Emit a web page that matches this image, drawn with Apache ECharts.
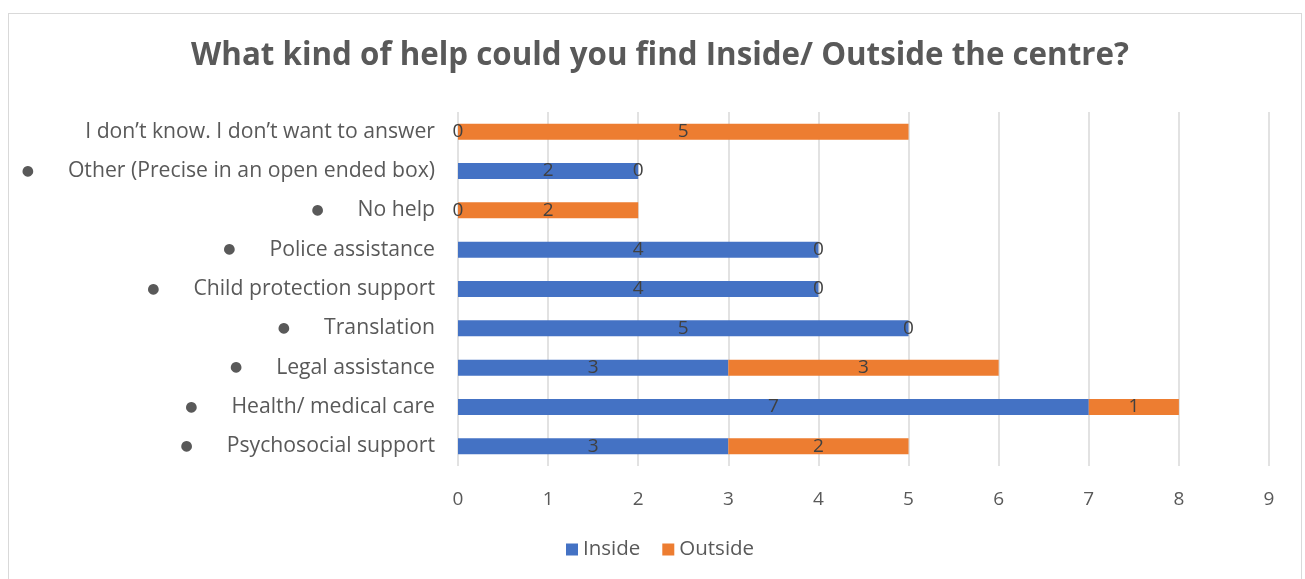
<!DOCTYPE html>
<html>
<head>
<meta charset="utf-8">
<script src="https://cdn.jsdelivr.net/npm/echarts@6/dist/echarts.min.js"></script>
<style>
  html, body { margin: 0; padding: 0; background: #ffffff; }
  #frame { position: absolute; left: 8px; top: 13px; width: 1294px; height: 570px; border: 1px solid #d9d9d9; box-sizing: border-box; }
  #chart { position: absolute; left: 0; top: 0; width: 1305px; height: 579px; }
</style>
</head>
<body>
<div id="frame"></div>
<div id="chart"></div>
<script>
// Categories listed bottom to top, as the category axis draws them
const categories = [
  'Psychosocial support',
  'Health/ medical care',
  'Legal assistance',
  'Translation',
  'Child protection support',
  'Police assistance',
  'No help',
  'Other (Precise in an open ended box)',
  'I don\u2019t know. I don\u2019t want to answer'
];
// Which category labels carry a bullet
const bulleted = [true, true, true, true, true, true, true, true, false];
const insideValues = [3, 7, 3, 5, 4, 4, 0, 2, 0];
const outsideValues = [2, 1, 3, 0, 0, 0, 2, 0, 5];
const xTicks = [0, 1, 2, 3, 4, 5, 6, 7, 8, 9];

const FONT = 'Open Sans';
const chart = echarts.init(document.getElementById('chart'), null, { renderer: 'canvas' });

const labelStyle = {
  show: true,
  position: 'inside',
  color: '#404040',
  fontFamily: FONT,
  fontSize: 19,
  formatter: p => String(p.value)
};

chart.setOption({
  animation: false,
  title: {
    text: 'What kind of help could you find Inside/ Outside the centre?',
    left: 655,
    textAlign: 'center',
    top: 36,
    textStyle: { fontFamily: FONT, fontWeight: 'bold', fontSize: 31.3, color: '#595959' }
  },
  legend: {
    bottom: 14,
    left: 561,
    itemWidth: 12,
    itemHeight: 12,
    itemGap: 22,
    icon: 'rect',
    textStyle: { fontFamily: FONT, fontSize: 20.5, color: '#595959' },
    data: ['Inside', 'Outside']
  },
  grid: { left: 458, right: 36, top: 112, bottom: 113, containLabel: false },
  xAxis: {
    type: 'value',
    min: xTicks[0],
    max: xTicks[xTicks.length - 1],
    interval: 1,
    axisLine: { show: false },
    axisTick: { show: false },
    axisLabel: { fontFamily: FONT, fontSize: 19, color: '#595959', margin: 24 },
    splitLine: { show: true, lineStyle: { color: '#d9d9d9', width: 1.5 } }
  },
  yAxis: {
    type: 'category',
    data: categories,
    axisLine: { show: false },
    axisTick: { show: false },
    axisLabel: {
      margin: 23,
      formatter: (v, i) => bulleted[i] ? '{b|\u25CF}{t|' + v + '}' : '{t|' + v + '}',
      rich: {
        b: { fontFamily: 'DejaVu Sans', fontSize: 14, color: '#595959', padding: [0, 34, 0, 0] },
        t: { fontFamily: FONT, fontSize: 21.2, color: '#595959' }
      }
    }
  },
  series: [
    {
      name: 'Inside', type: 'bar', stack: 'help', barWidth: 16,
      itemStyle: { color: '#4472C4' },
      label: labelStyle,
      data: insideValues
    },
    {
      name: 'Outside', type: 'bar', stack: 'help', barWidth: 16,
      itemStyle: { color: '#ED7D31' },
      label: labelStyle,
      data: outsideValues
    }
  ]
});
</script>
</body>
</html>
